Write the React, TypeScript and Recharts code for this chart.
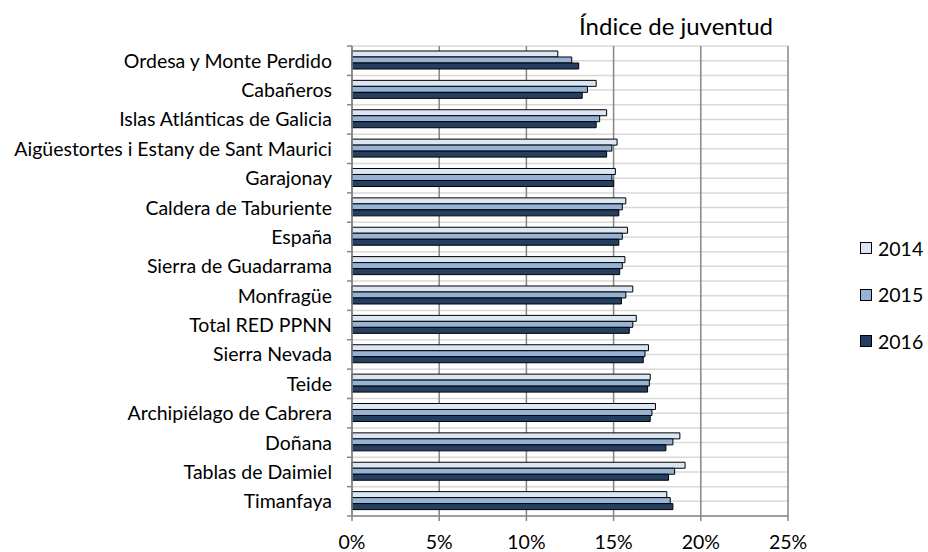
import { BarChart, Bar, XAxis, YAxis, CartesianGrid } from 'recharts'

// parques nacionales, de arriba a abajo
const parques = [
  'Ordesa y Monte Perdido',
  'Cabañeros',
  'Islas Atlánticas de Galicia',
  'Aigüestortes i Estany de Sant Maurici',
  'Garajonay',
  'Caldera de Taburiente',
  'España',
  'Sierra de Guadarrama',
  'Monfragüe',
  'Total RED PPNN',
  'Sierra Nevada',
  'Teide',
  'Archipiélago de Cabrera',
  'Doñana',
  'Tablas de Daimiel',
  'Timanfaya',
]

// índice de juventud (%)
const serie2014 = [11.8, 14.0, 14.6, 15.2, 15.1, 15.7, 15.8, 15.65, 16.1, 16.3, 17.0, 17.1, 17.4, 18.8, 19.1, 18.05]
const serie2015 = [12.6, 13.5, 14.2, 14.9, 14.9, 15.5, 15.5, 15.5, 15.7, 16.1, 16.8, 17.05, 17.2, 18.4, 18.5, 18.25]
const serie2016 = [13.0, 13.2, 14.0, 14.6, 15.0, 15.3, 15.3, 15.35, 15.45, 15.9, 16.7, 16.95, 17.1, 18.0, 18.15, 18.4]

const anios = ['2014', '2015', '2016']
const ticksX = [0, 5, 10, 15, 20, 25]

const COLORES = ['#DCE6F2', '#95B3D7', '#243F60']
const AXIS_COLOR = '#868686'
const FONT = 'Lato, "Open Sans", sans-serif'
const LABEL_SIZE = 19.5
const TICK_SIZE = 5
const TICK_MARGIN = 15

const data = parques.map((name, i) => ({
  name,
  '2014': serie2014[i],
  '2015': serie2015[i],
  '2016': serie2016[i],
}))

// etiqueta de categoría con la marca en el borde de cada banda (estilo Excel)
function CategoryTick(props: any) {
  const { x, y, payload, index, visibleTicksCount } = props
  const half = payload?.offset || 14.7
  const axisX = x + TICK_MARGIN + TICK_SIZE
  return (
    <g>
      <line x1={axisX - TICK_SIZE} x2={axisX} y1={y - half} y2={y - half} stroke={AXIS_COLOR} strokeWidth={1.5} />
      {index === visibleTicksCount - 1 && (
        <line x1={axisX - TICK_SIZE} x2={axisX} y1={y + half} y2={y + half} stroke={AXIS_COLOR} strokeWidth={1.5} />
      )}
      <text x={x} y={y} dy="0.36em" textAnchor="end" fill="#000" fontSize={LABEL_SIZE} fontFamily={FONT}>
        {payload.value}
      </text>
    </g>
  )
}

export default function App() {
  return (
    <div style={{ position: 'absolute', left: 0, top: 0, width: 928, height: 552, background: '#fff', fontFamily: FONT }}>
      <div style={{ position: 'absolute', left: 526, top: 12, width: 300, textAlign: 'center', fontSize: 24, lineHeight: 1.2, color: '#000' }}>
        Índice de juventud
      </div>

      <BarChart
        width={928}
        height={552}
        data={data}
        layout="vertical"
        margin={{ top: 46, right: 140, bottom: 0, left: 0 }}
        barCategoryGap="17%"
        barGap={0}
      >
        {/* líneas claras en centros y bordes de categoría */}
        <CartesianGrid
          vertical={false}
          stroke="#d9d9d9"
          strokeWidth={1.5}
          horizontalCoordinatesGenerator={({ offset }: any) => {
            const step = offset.height / parques.length / 2
            return Array.from({ length: parques.length * 2 + 1 }, (_, i) => offset.top + i * step)
          }}
        />
        <CartesianGrid horizontal={false} stroke={AXIS_COLOR} strokeWidth={1.5} />
        <XAxis
          type="number"
          domain={[0, 25]}
          ticks={ticksX}
          tickFormatter={(v: number) => `${v}%`}
          height={36}
          tickSize={TICK_SIZE}
          tickMargin={14}
          axisLine={{ stroke: AXIS_COLOR, strokeWidth: 1.5 }}
          tickLine={{ stroke: AXIS_COLOR, strokeWidth: 1.5 }}
          tick={{ fill: '#000', fontSize: LABEL_SIZE, fontFamily: FONT }}
          interval={0}
        />
        <YAxis
          type="category"
          dataKey="name"
          width={352}
          tickSize={TICK_SIZE}
          tickMargin={TICK_MARGIN}
          tickLine={false}
          axisLine={{ stroke: AXIS_COLOR, strokeWidth: 1.5 }}
          tick={<CategoryTick />}
          interval={0}
        />
        {anios.map((anio, i) => (
          <Bar
            key={anio}
            dataKey={anio}
            fill={COLORES[i]}
            stroke="#000"
            strokeWidth={1}
            isAnimationActive={false}
          />
        ))}
      </BarChart>

      <div style={{ position: 'absolute', left: 860, top: 236 }}>
        {anios.map((anio, i) => (
          <div key={anio} style={{ display: 'flex', alignItems: 'center', height: 24, marginBottom: 22.5, fontSize: LABEL_SIZE, color: '#000' }}>
            <span style={{ display: 'inline-block', width: 12, height: 12, background: COLORES[i], border: '1px solid #000', marginRight: 6, boxSizing: 'border-box' }} />
            {anio}
          </div>
        ))}
      </div>
    </div>
  )
}
